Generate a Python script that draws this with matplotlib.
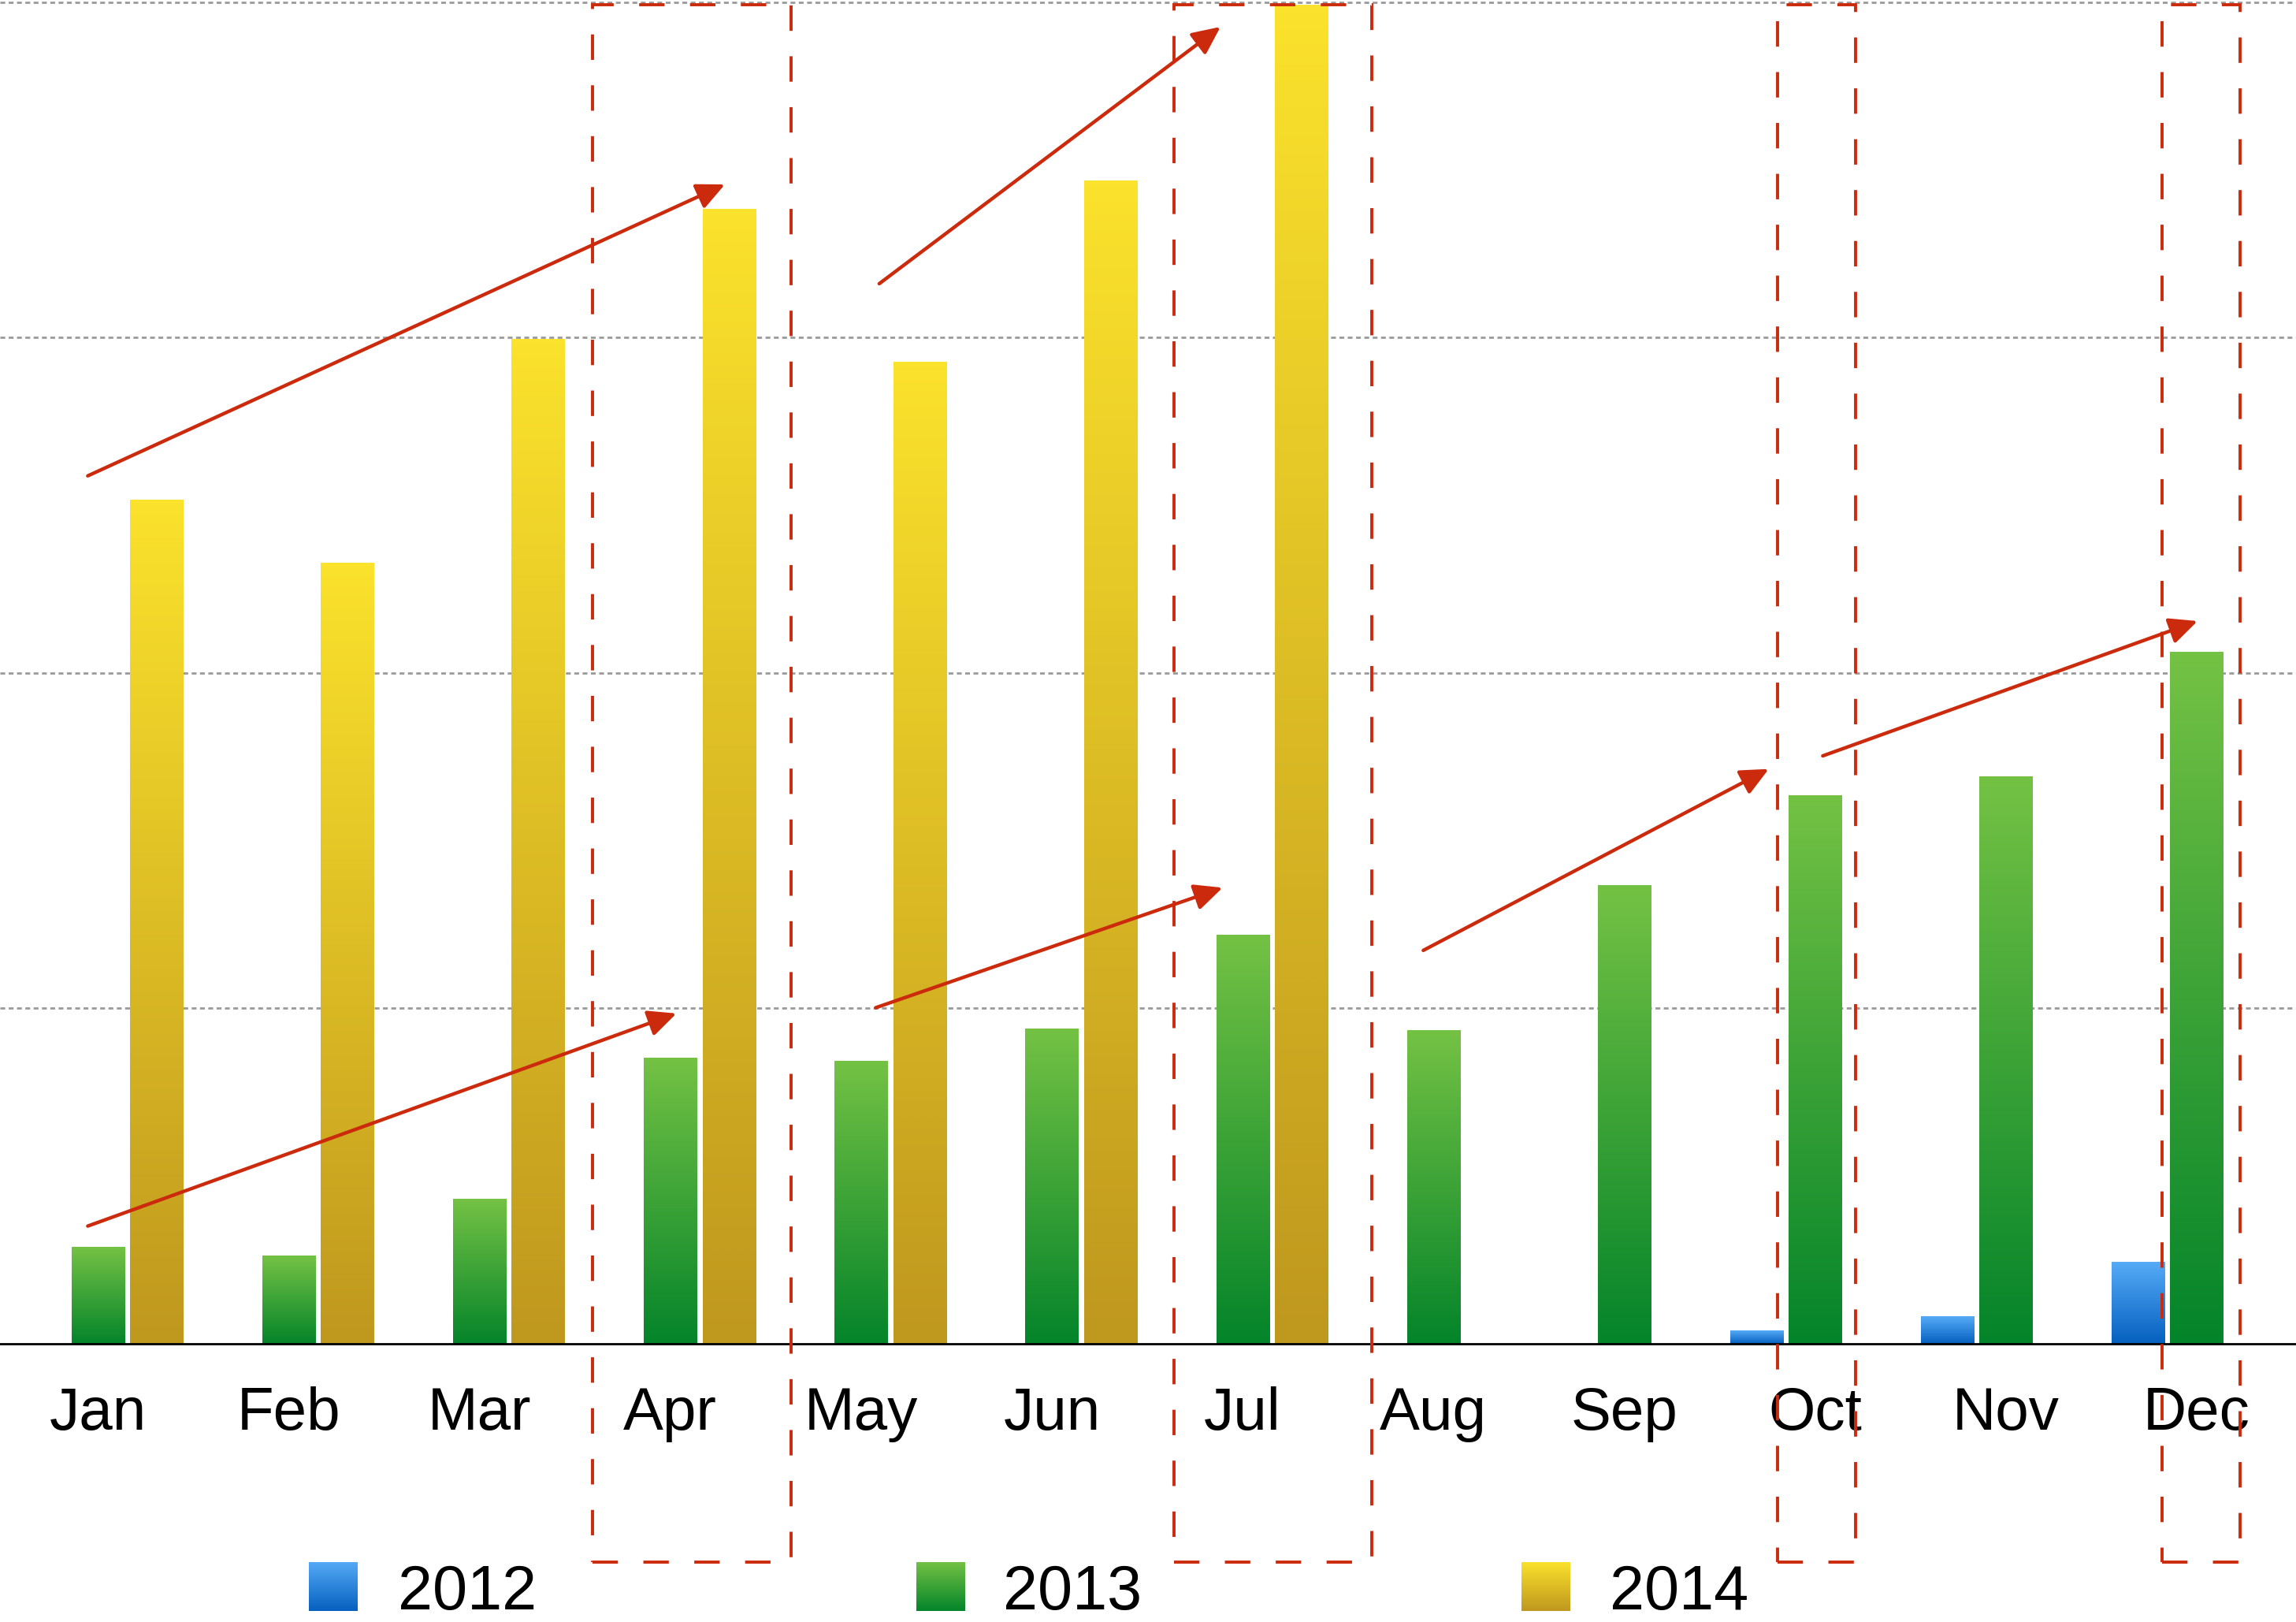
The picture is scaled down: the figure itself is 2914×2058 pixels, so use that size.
import matplotlib
matplotlib.use("Agg")
import matplotlib.pyplot as plt
import numpy as np
from matplotlib.colors import LinearSegmentedColormap
from matplotlib.patches import Rectangle

months = ["Jan", "Feb", "Mar", "Apr", "May", "Jun", "Jul", "Aug", "Sep", "Oct", "Nov", "Dec"]
years = ["2012", "2013", "2014"]

v2012 = [0, 0, 0, 0, 0, 0, 0, 0, 0, 3.8, 8.2, 24.4]
v2013 = [28.9, 26.3, 43.2, 85.2, 84.3, 93.9, 121.8, 93.4, 136.7, 163.5, 169.2, 206.3]
v2014 = [251.5, 232.8, 299.5, 338.4, 292.6, 346.7, 399.2, 0, 0, 0, 0, 0]

# gradient (top, bottom) for each year
grad = {
    "2012": ("#56abf7", "#0560bf"),
    "2013": ("#74c244", "#04842a"),
    "2014": ("#fbe22c", "#bf981e"),
}

# trend arrows (start, end) in data units
arrows = [
    ((-0.054, 258.8), (3.286, 345.7)),
    ((4.095, 316.1), (5.884, 392.7)),
    ((-0.054, 35.1), (3.032, 98.5)),
    ((4.076, 100.2), (5.895, 136.0)),
    ((6.947, 117.3), (8.758, 171.4)),
    ((9.041, 175.3), (11.006, 215.5)),
]

# highlight boxes (x0, x1)
boxes = [(2.594, 3.631), (5.642, 6.678), (8.806, 9.212), (10.821, 11.227)]
box_y = (-65.1, 399.3)

red = "#cc2a0c"
W, H = 2914, 2058
fig = plt.figure(figsize=(W / 200, H / 200), dpi=200)
ax = fig.add_axes([0, 1 - 1705 / H, 1, 1706.3 / H])

def cmap_for(y):
    top, bottom = grad[y]
    return LinearSegmentedColormap.from_list(y, [bottom, top])

x = np.arange(len(months))
bw = 0.277
off = 0.307
grad_img = np.linspace(1, 0, 256).reshape(-1, 1)

for k, (yr, vals) in enumerate(zip(years, [v2012, v2013, v2014])):
    bars = ax.bar(x + (k - 1) * off, vals, width=bw, color="none", edgecolor="none")
    cm = cmap_for(yr)
    for b in bars:
        if b.get_height() <= 0:
            continue
        x0, y0 = b.get_x(), b.get_y()
        ax.imshow(grad_img, cmap=cm, aspect="auto", vmin=0, vmax=1,
                  extent=[x0, x0 + b.get_width(), y0, y0 + b.get_height()],
                  interpolation="bilinear", zorder=2)

ax.set_xlim(-0.514, 11.522)
ax.set_ylim(0, 401)

for gy in [100, 200, 300, 400]:
    ax.axhline(gy, color="#9a9a9a", lw=1.0, dashes=(2.2, 1.6), zorder=1, clip_on=False)

for s in ["top", "left", "right"]:
    ax.spines[s].set_visible(False)
ax.spines["bottom"].set_linewidth(1.0)
ax.spines["bottom"].set_zorder(3)
ax.set_yticks([])
ax.set_xticks(x)
ax.set_xticklabels(months, fontsize=27.5, family="Liberation Sans")
ax.tick_params(axis="x", length=0, pad=19.5)

for (x0, y0), (x1, y1) in arrows:
    ax.annotate("", xy=(x1, y1), xytext=(x0, y0), xycoords="data",
                annotation_clip=False,
                arrowprops=dict(arrowstyle="-|>,head_length=0.6,head_width=0.28",
                                mutation_scale=18, color=red, lw=1.6,
                                shrinkA=0, shrinkB=0), zorder=5)

for bx0, bx1 in boxes:
    ax.add_patch(Rectangle((bx0, box_y[0]), bx1 - bx0, box_y[1] - box_y[0],
                           fill=False, edgecolor=red, lw=1.4,
                           linestyle=(0, (8.3, 8.3)),
                           clip_on=False, zorder=6))

# legend
leg_left = [392, 1163, 1931]
txt_left = [505, 1273, 2043]
for yr, pl, tl in zip(years, leg_left, txt_left):
    lax = fig.add_axes([pl / W, 1 - 2044 / H, 62 / W, 62 / H])
    lax.imshow(grad_img, cmap=cmap_for(yr), aspect="auto", interpolation="bilinear")
    lax.axis("off")
    fig.text(tl / W, 1 - 2042 / H, yr, fontsize=28.5, family="Liberation Sans",
             va="baseline", ha="left")

fig.savefig("out.png", dpi=200, facecolor="white")
